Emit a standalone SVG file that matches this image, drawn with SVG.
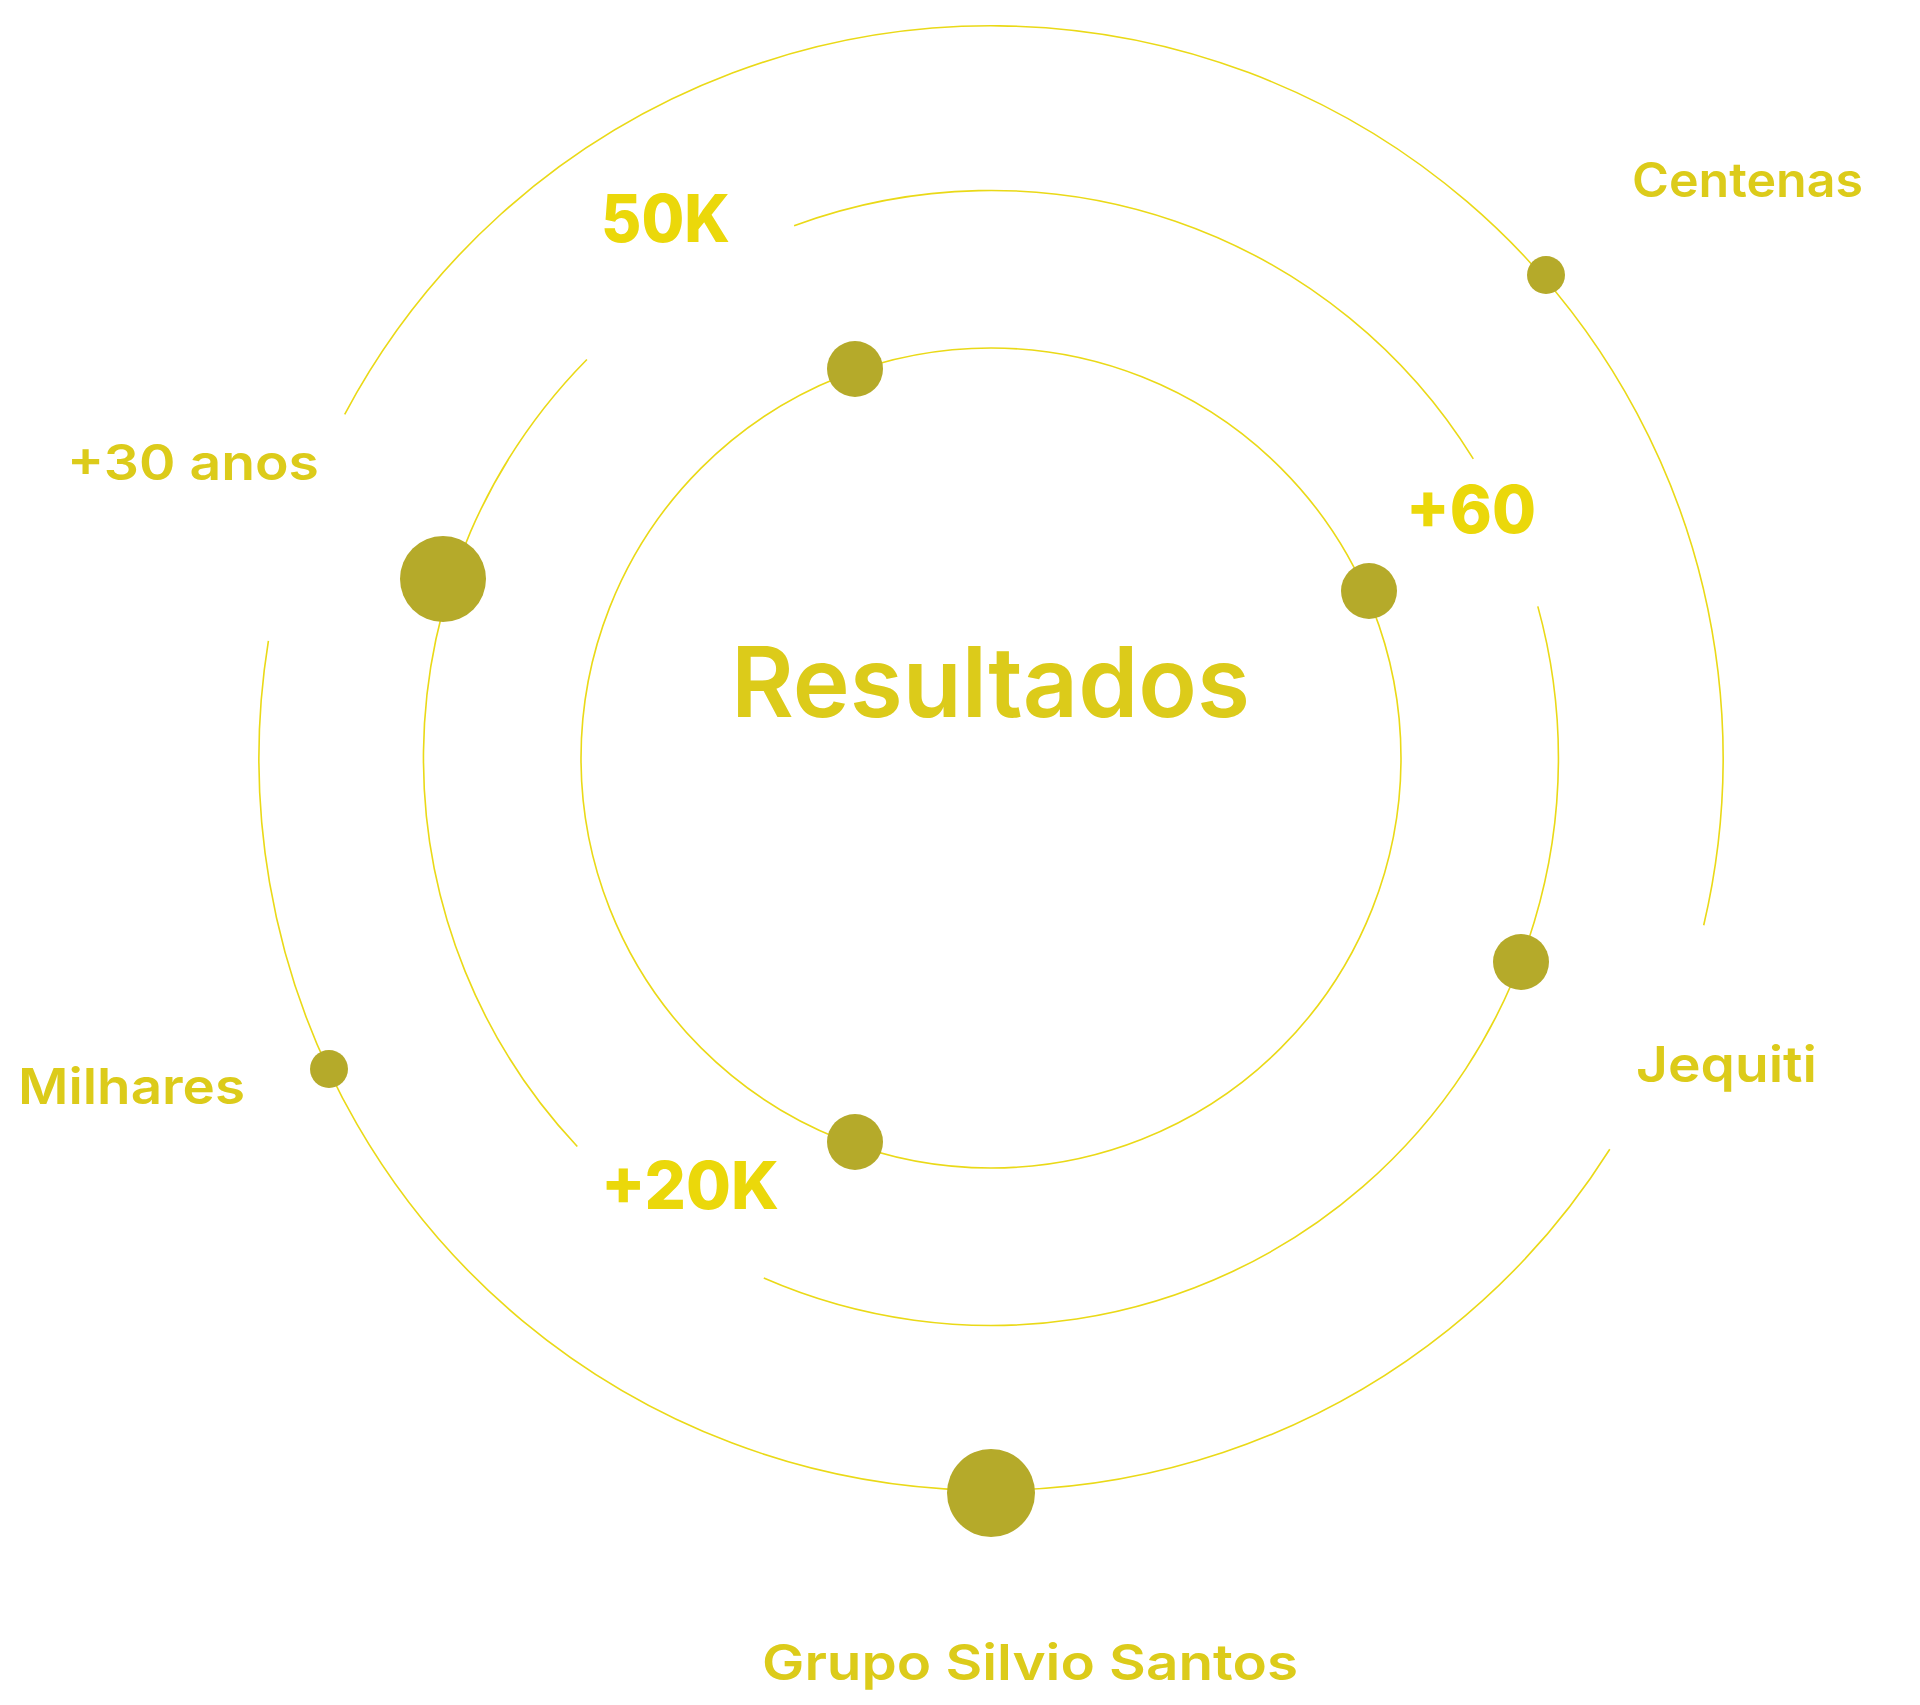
<svg xmlns="http://www.w3.org/2000/svg" width="1920" height="1705" viewBox="0 0 1920 1705">
<style>
.ring{fill:none;stroke:#EAD917;stroke-width:1.6}
.dot{fill:#B5AA2A}
.lbl{font-family:Inter,"Liberation Sans",sans-serif;font-weight:600;fill:#DCCB1A}
.num{font-family:Inter,"Liberation Sans",sans-serif;font-weight:800;fill:#EBD80A}
</style>
<rect width="1920" height="1705" fill="#fff"/>
<g id="connectors">
<circle class="ring" cx="991" cy="758" r="410"/>
<path class="ring" d="M1703.7,925.2 A732,732 0 0 0 344.7,414.3"/>
<path class="ring" d="M268.4,640.9 A732,732 0 0 0 1609.8,1149.2"/>
<path class="ring" d="M794.1,225.7 A567.5,567.5 0 0 1 1473.3,458.9"/>
<path class="ring" d="M1537.8,606.4 A567.5,567.5 0 0 1 763.8,1278.1"/>
<path class="ring" d="M577.3,1146.5 A567.5,567.5 0 0 1 586.9,359.5"/>
</g>
<g id="dots">
<circle class="dot" cx="855" cy="369" r="28"/>
<circle class="dot" cx="1369" cy="591" r="28"/>
<circle class="dot" cx="855" cy="1142" r="28"/>
<circle class="dot" cx="443" cy="579" r="43"/>
<circle class="dot" cx="1546" cy="275" r="19"/>
<circle class="dot" cx="1521" cy="962" r="28"/>
<circle class="dot" cx="329" cy="1069" r="19"/>
<circle class="dot" cx="991" cy="1493" r="44"/>
</g>
<g id="center"><text class="lbl" x="731" y="717" font-size="98" font-weight="700" textLength="519" lengthAdjust="spacingAndGlyphs">Resultados</text></g>
<g id="n50k"><text class="num" x="601" y="242" font-size="66" textLength="129" lengthAdjust="spacingAndGlyphs">50K</text></g>
<g id="n60"><text class="num" x="1406" y="533" font-size="66" textLength="130" lengthAdjust="spacingAndGlyphs">+60</text></g>
<g id="n20k"><text class="num" x="601" y="1209" font-size="66" textLength="178" lengthAdjust="spacingAndGlyphs">+20K</text></g>
<g id="anos"><text class="lbl" x="67" y="480" font-size="50" textLength="252" lengthAdjust="spacingAndGlyphs">+30 anos</text></g>
<g id="centenas"><text class="lbl" x="1632" y="197" font-size="48" textLength="231" lengthAdjust="spacingAndGlyphs">Centenas</text></g>
<g id="milhares"><text class="lbl" x="18" y="1104" font-size="50" textLength="227" lengthAdjust="spacingAndGlyphs">Milhares</text></g>
<g id="jequiti"><text class="lbl" x="1636" y="1082" font-size="50" textLength="181" lengthAdjust="spacingAndGlyphs" fill="#E6D512">Jequiti</text></g>
<g id="gss"><text class="lbl" x="762" y="1680" font-size="50" textLength="536" lengthAdjust="spacingAndGlyphs">Grupo Silvio Santos</text></g>
</svg>
